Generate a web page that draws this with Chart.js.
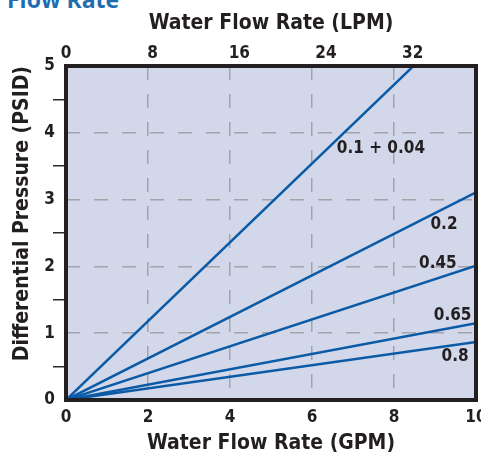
<!DOCTYPE html>
<html><head><meta charset="utf-8">
<script src="https://cdn.jsdelivr.net/npm/chart.js@4.4.1/dist/chart.umd.min.js"></script>
<style>
html,body{margin:0;padding:0;background:#fff;}
#wrap{position:relative;width:481px;height:455px;overflow:hidden;}
#hdr{position:absolute;left:7px;top:-12px;font:bold 23px/23px "Open Sans",sans-serif;color:#1f6cb0;white-space:nowrap;}
canvas{position:absolute;left:0;top:0;}
</style></head><body>
<div id="wrap"><div id="hdr">Flow Rate</div><canvas id="c" width="481" height="455"></canvas></div>
<script>
// ---- data ----
const flowGpm = [0, 10];
const seriesNames = ['0.1 + 0.04', '0.2', '0.45', '0.65', '0.8'];
const pressure_01_004 = [0, 5.90];
const pressure_02 = [0, 3.11];
const pressure_045 = [0, 2.01];
const pressure_065 = [0, 1.15];
const pressure_08 = [0, 0.87];
const gpmTicks = [0, 2, 4, 6, 8, 10];
const lpmTicks = [0, 8, 16, 24, 32];
const psidTicks = [0, 1, 2, 3, 4, 5];
const psidMinorTicks = [0.5, 1.5, 2.5, 3.5, 4.5];
const LPM_PER_GPM = 3.785;
// series label anchors in data units (GPM, PSID)
const labelGpm = [7.68, 9.22, 9.07, 9.43, 9.49];
const labelPsid = [3.77, 2.62, 2.04, 1.27, 0.65];

const allSeries = [pressure_01_004, pressure_02, pressure_045, pressure_065, pressure_08];

const FONT = '"Liberation Sans Narrow","DejaVu Sans Condensed","Arial Narrow",sans-serif';
const INK = '#231f20';
const LINE = '#0b5aa6';
const GRID = '#a2a4aa';
const TRANSP = 'rgba(0,0,0,0)';

const datasets = allSeries.map((vals, i) => ({
  label: seriesNames[i],
  data: flowGpm.map((x, j) => ({x: x, y: vals[j]})),
  borderColor: LINE,
  borderWidth: 2.5,
  pointRadius: 0,
  fill: false,
  tension: 0
}));

const bgPlugin = {
  id: 'bg',
  beforeDraw(chart) {
    const a = chart.chartArea, ctx = chart.ctx;
    ctx.save();
    ctx.fillStyle = '#d2d8ea';
    ctx.fillRect(a.left, a.top, a.right - a.left, a.bottom - a.top);
    ctx.restore();
  }
};
const framePlugin = {
  id: 'frame',
  afterDatasetsDraw(chart) {
    const a = chart.chartArea, ctx = chart.ctx;
    ctx.save();
    ctx.strokeStyle = INK;
    ctx.lineWidth = 4;
    ctx.strokeRect(a.left, a.top, a.right - a.left, a.bottom - a.top);
    ctx.restore();
  }
};
const labelPlugin = {
  id: 'seriesLabels',
  afterDatasetsDraw(chart) {
    const ctx = chart.ctx, xs = chart.scales.x, ys = chart.scales.y;
    ctx.save();
    ctx.font = 'bold 17px ' + FONT;
    ctx.fillStyle = INK;
    ctx.textAlign = 'center';
    ctx.textBaseline = 'middle';
    seriesNames.forEach((t, i) => {
      ctx.fillText(t, xs.getPixelForValue(labelGpm[i]), ys.getPixelForValue(labelPsid[i]));
    });
    ctx.restore();
  }
};

const tickFont = {family: FONT, size: 17, weight: 'bold'};
const titleFont = {family: FONT, size: 21, weight: 'bold', lineHeight: 1};

new Chart(document.getElementById('c'), {
  type: 'line',
  data: {datasets},
  plugins: [bgPlugin, framePlugin, labelPlugin],
  options: {
    responsive: false,
    animation: false,
    layout: {padding: {left: 0, right: 5, top: 0, bottom: 0}},
    plugins: {legend: {display: false}, tooltip: {enabled: false}},
    scales: {
      x: {
        type: 'linear', position: 'bottom', min: 0, max: 10,
        afterBuildTicks: s => { s.ticks = gpmTicks.map(v => ({value: v})); },
        afterFit: s => { s.height = 55; s.paddingLeft = 0; s.paddingRight = 0; },
        ticks: {font: tickFont, color: INK, padding: 7, autoSkip: false, maxRotation: 0},
        grid: {
          color: c => (c.tick && c.tick.value > 0 && c.tick.value < 10) ? GRID : TRANSP,
          lineWidth: 1.5, drawTicks: false
        },
        border: {display: false, dash: [14, 14]},
        title: {display: true, text: 'Water Flow Rate (GPM)', font: titleFont, color: INK, padding: {top: 0, bottom: 0.5}}
      },
      xTop: {
        type: 'linear', position: 'top', min: 0, max: 10 * LPM_PER_GPM,
        afterBuildTicks: s => { s.ticks = lpmTicks.map(v => ({value: v})); },
        afterFit: s => { s.height = 66; s.paddingLeft = 0; s.paddingRight = 0; },
        ticks: {font: tickFont, color: INK, padding: 2, autoSkip: false, maxRotation: 0},
        grid: {display: false, drawTicks: false},
        border: {display: false},
        title: {display: true, text: 'Water Flow Rate (LPM)', font: titleFont, color: INK, padding: {top: 13.5, bottom: 0}}
      },
      y: {
        type: 'linear', position: 'left', min: 0, max: 5,
        afterBuildTicks: s => { s.ticks = psidTicks.concat(psidMinorTicks).sort((a, b) => a - b).map(v => ({value: v})); },
        afterFit: s => { s.width = 66; s.paddingTop = 0; s.paddingBottom = 0; },
        ticks: {
          font: tickFont, color: INK, padding: -2, autoSkip: false,
          callback: v => psidTicks.includes(v) ? String(v) : ''
        },
        grid: {
          color: c => (c.tick && psidTicks.includes(c.tick.value) && c.tick.value > 0 && c.tick.value < 5) ? GRID : TRANSP,
          tickColor: c => (c.tick && psidMinorTicks.includes(c.tick.value)) ? '#2a2a2a' : TRANSP,
          lineWidth: 1.5, tickWidth: 1.5, tickLength: 13, drawTicks: true
        },
        border: {display: false, dash: [14, 14]},
        title: {display: true, text: 'Differential Pressure (PSID)', align: 'end', font: titleFont, color: INK, padding: {top: 12.5, bottom: 0}}
      }
    }
  }
});
</script>
</body></html>
